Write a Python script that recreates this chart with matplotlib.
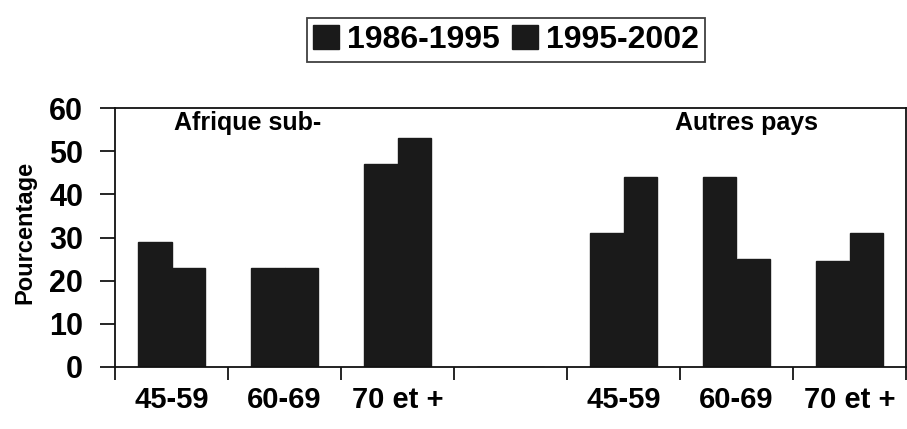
import numpy as np
import matplotlib
matplotlib.use("Agg")
import matplotlib.pyplot as plt

plt.rcParams['font.family'] = ['Liberation Sans', 'DejaVu Sans']
plt.rcParams['font.weight'] = 'bold'
plt.rcParams['axes.labelweight'] = 'bold'

age_labels = ['45-59', '60-69', '70 et +', '', '45-59', '60-69', '70 et +']
period_labels = ['1986-1995', '1995-2002']
# Afrique sub-saharienne, then a blank slot, then Autres pays
pct_1986_1995 = [29, 23, 47, 0, 31, 44, 24.6]
pct_1995_2002 = [23, 23, 53, 0, 44, 25, 31]
region_labels = ['Afrique sub-', 'Autres pays']

bar_col = '#1a1a1a'

fig = plt.figure(figsize=(9.07, 4.29), dpi=100)
ax = fig.add_axes([115 / 907, 1 - 367 / 429, 791 / 907, 259 / 429])

x = np.arange(len(age_labels))
w = 0.3
ax.bar(x - w / 2, pct_1986_1995, w, color=bar_col, edgecolor=bar_col, label=period_labels[0])
ax.bar(x + w / 2, pct_1995_2002, w, color=bar_col, edgecolor=bar_col, label=period_labels[1])

ax.set_xlim(-0.5, len(age_labels) - 0.5)
ax.set_ylim(0, 60)
ax.set_yticks(range(0, 61, 10))
ax.tick_params(axis='y', labelsize=22, length=11, width=1.2, pad=12)

# category labels centred, tick marks on the category boundaries
ax.set_xticks(x)
ax.set_xticklabels(age_labels, fontsize=21)
ax.tick_params(axis='x', which='major', length=0, pad=14)
ax.set_xticks(np.arange(-0.5, len(age_labels), 1), minor=True)
ax.tick_params(axis='x', which='minor', length=9, width=1.2)

for s in ax.spines.values():
    s.set_linewidth(1.3)
    s.set_color('#111111')

ax.set_ylabel('Pourcentage', fontsize=17, labelpad=8)
ax.yaxis.set_label_coords(-0.1, 0.52)

ax.text(0.67, 56.5, region_labels[0], fontsize=18, ha='center', va='center')
ax.text(5.09, 56.5, region_labels[1], fontsize=18, ha='center', va='center')

leg = fig.legend(loc='center', bbox_to_anchor=(506 / 907, 1 - 40 / 429), ncol=2,
                 fontsize=23, frameon=True, fancybox=False, edgecolor='#111111',
                 handlelength=0.8, handleheight=0.8, handletextpad=0.25,
                 columnspacing=0.4, borderpad=0.2, borderaxespad=0)
leg.get_frame().set_linewidth(1.3)

fig.savefig('out.png', dpi=100)
